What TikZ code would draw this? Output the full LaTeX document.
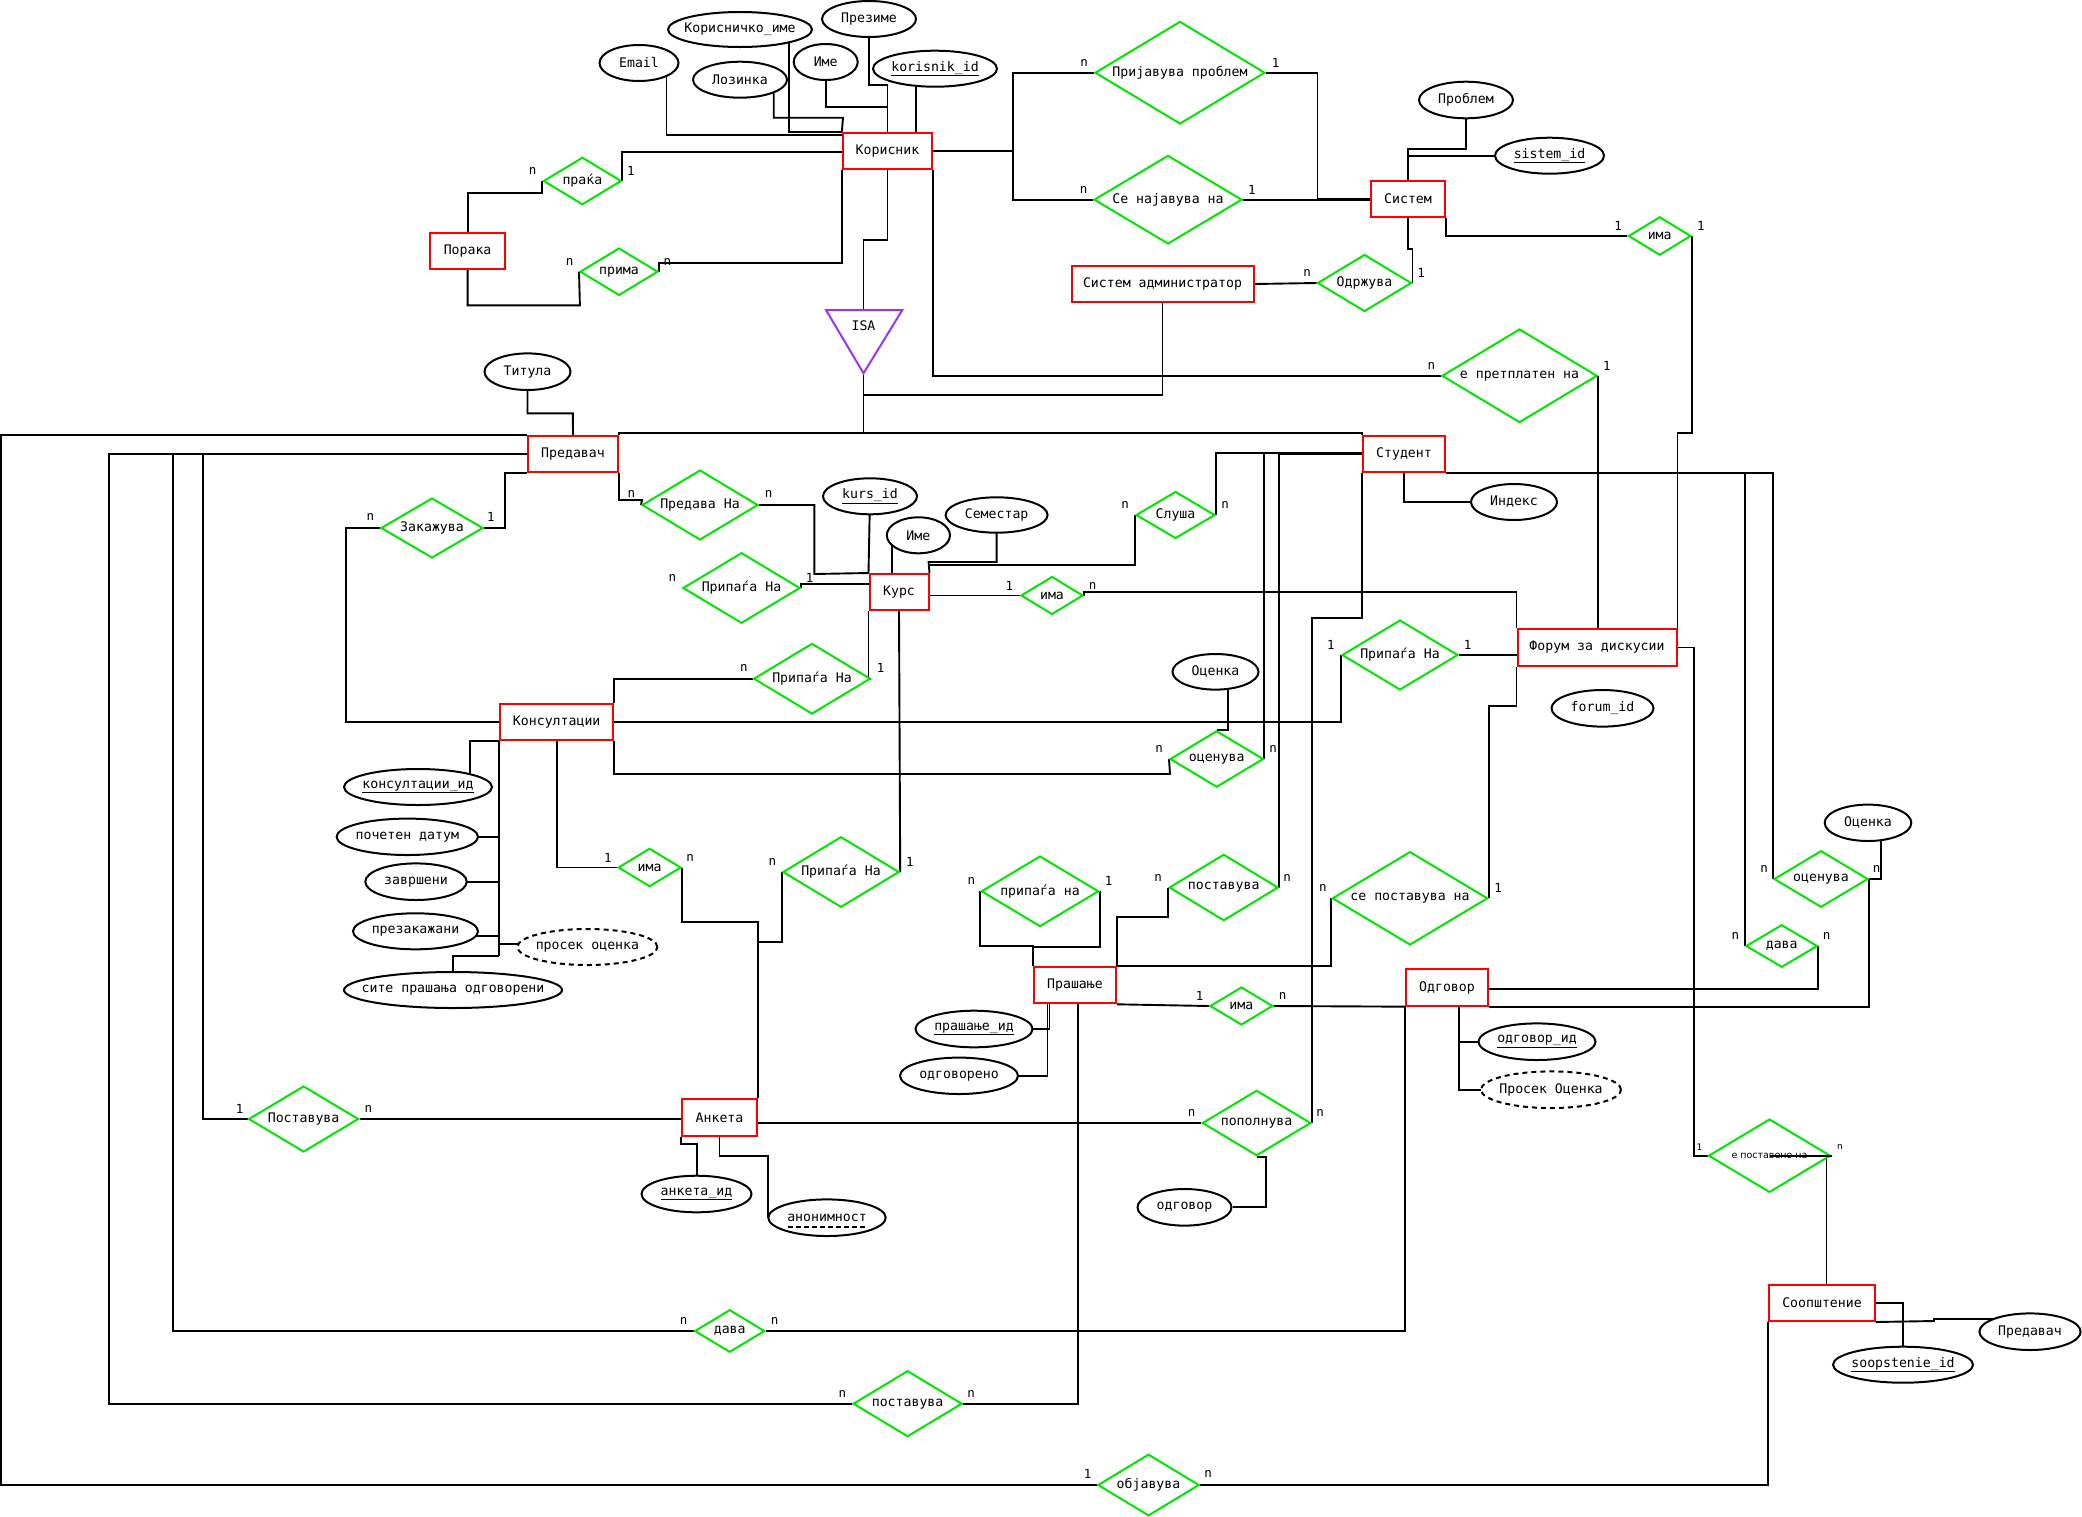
\documentclass[tikz,border=0pt]{standalone}
\usepackage{fontspec}
\setmainfont{DejaVu Sans Mono}
\newfontfamily\smallsans{DejaVu Sans}
\usetikzlibrary{shapes.geometric}
\pgfdeclarelayer{bgfill}
\pgfdeclarelayer{edges}
\pgfsetlayers{bgfill,edges,main}
\definecolor{ergreen}{RGB}{0,230,0}
\definecolor{erred}{RGB}{255,0,0}
\definecolor{isapurple}{RGB}{153,51,255}
\tikzset{
 ent/.style={rectangle,draw=erred,line width=2pt,fill=white,inner sep=0pt},
 rel/.style={diamond,draw=ergreen,line width=2pt,fill=white,inner sep=0pt},
 attr/.style={ellipse,draw=black,line width=2pt,fill=white,inner sep=0pt},
 derived/.style={dash pattern=on 5pt off 4pt},
 card/.style={inner sep=0pt,font=\fontsize{12.5}{14}\selectfont},
 smallcard/.style={inner sep=0pt,font=\smallsans\fontsize{9}{10}\selectfont},
 conn/.style={line width=1.9pt,draw=black},
}
\newcommand\mkent[5]{\node[ent,minimum width=#4,minimum height=#5] (#2) at (#3) {#1};}
\newcommand\mkrel[5]{\node[rel,minimum width=#4,minimum height=#5,label={center:#1}] (#2) at (#3) {};}
\newcommand\mkattr[6][]{\node[attr,#1,minimum width=#5,minimum height=#6,label={center:#2}] (#3) at (#4) {};}
\begin{document}
\begin{tikzpicture}[x=1pt,y=-1pt,font=\fontsize{13.2}{15}\selectfont]
\useasboundingbox (0,0) rectangle (2082,1516);
\begin{pgfonlayer}{bgfill}
\fill[white] (0,0) rectangle (2082,1516);
\end{pgfonlayer}

% ---------- entities ----------
\mkent{Корисник}{korisnik}{887.5,150.8}{89.3}{36.3}
\mkent{Порака}{poraka}{467.6,250.8}{74.6}{36.3}
\mkent{Систем}{sistem}{1408,199}{74}{36}
\mkent{Систем администратор}{sysadm}{1162.5,284}{182}{36.7}
\mkent{Предавач}{predavac}{573,454}{90}{36}
\mkent{Студент}{student}{1404,454}{82}{36}
\mkent{Курс}{kurs}{899,592}{59}{36}
\mkent{Форум за дискусии}{forum}{1597,647.5}{159}{36.3}
\mkent{Консултации}{konsult}{556.7,721.8}{112.6}{36.3}
\mkent{Прашање}{prasanje}{1075,985.3}{81.7}{36}
\mkent{Одговор}{odgovor}{1447,987.5}{81.5}{36.3}
\mkent{Анкета}{anketa}{719.5,1117.3}{74.6}{36.7}
\mkent{Соопштение}{soopst}{1822,1303}{105.4}{36}

% ---------- relationships ----------
\mkrel{праќа}{prakja}{582.4,181}{78}{47.4}
\mkrel{прима}{prima}{619,271.7}{78}{47.4}
\mkrel{Пријавува проблем}{prijavuva}{1180,72.7}{170}{102.6}
\mkrel{Се најавува на}{senajav}{1168,199.7}{148}{88.6}
\mkrel{Одржува}{odrzuva}{1364.5,283}{94}{57}
\mkrel{има}{imaS}{1659.7,236}{62.6}{38.4}
\mkrel{е претплатен на}{pretplat}{1519.5,375.8}{155.2}{93.6}
\mkrel{Закажува}{zakazuva}{432,528}{102}{60}
\mkrel{Предава На}{predavana}{700,505}{116}{70}
\mkrel{Припаѓа На}{pripKa}{741.5,588}{117.2}{70.6}
\mkrel{Припаѓа На}{pripKb}{812,678.7}{116.8}{70.6}
\mkrel{Слуша}{slusa}{1175.5,515}{79}{47}
\mkrel{има}{imaK}{1052,595.5}{62}{38}
\mkrel{Припаѓа На}{pripF}{1400,655}{116}{70}
\mkrel{оценува}{ocenM}{1216.7,759}{93.4}{56.4}
\mkrel{има}{imaKon}{649.6,867.5}{62.8}{38.4}
\mkrel{Припаѓа На}{pripA}{841,872}{116.4}{70.6}
\mkrel{припаѓа на}{pripP}{1040,891.3}{117.4}{70.6}
\mkrel{поставува}{postM}{1223.7,887.5}{109}{66.4}
\mkrel{се поставува на}{sepost}{1410,898.3}{155.4}{93.4}
\mkrel{оценува}{ocenR}{1821,879}{94}{56.6}
\mkrel{дава}{davaR}{1781.7,946}{71.4}{42.6}
\mkrel{има}{imaP}{1241.4,1006}{62.8}{38}
\mkrel{Поставува}{postavL}{303.6,1119}{110}{66}
\mkrel{пополнува}{popoln}{1256.6,1123}{108.6}{65.4}
\mkrel{{\smallsans\fontsize{9.5}{11}\selectfont е поставено на}}{epost}{1769.5,1155.7}{122}{73.4}
\mkrel{дава}{davaB}{729.7,1331}{70}{42.6}
\mkrel{поставува}{postB}{907.6,1403.7}{109}{66}
\mkrel{објавува}{objav}{1148.5,1485}{101.4}{61.6}

% ---------- attributes ----------
\mkattr{Email}{email}{639,63}{79}{36}
\mkattr{Корисничко\_име}{korime}{740,29.5}{144}{35}
\mkattr{Презиме}{prezime}{869,19}{94}{36}
\mkattr{Име}{imeK}{825.7,62}{64}{36}
\mkattr{Лозинка}{lozinka}{740,79.7}{94}{36}
\mkattr{\underline{korisnik\_id}}{korid}{935,68.7}{124}{36}
\mkattr{Проблем}{problem}{1466,100}{94}{36.6}
\mkattr{\underline{sistem\_id}}{sistid}{1549.5,155.7}{109}{36}
\mkattr{Титула}{titula}{527.5,371.7}{86}{36.6}
\mkattr{Индекс}{indeks}{1514,502}{86}{36}
\mkattr{\underline{kurs\_id}}{kursid}{870,496.3}{94}{36}
\mkattr{Име}{imeKurs}{918.4,535.3}{63.2}{36}
\mkattr{Семестар}{semestar}{996.6,515}{102}{35.4}
\mkattr{forum\_id}{forumid}{1602.5,708.3}{102}{36.6}
\mkattr{Оценка}{ocenkaM}{1215.5,671.8}{86}{35.6}
\mkattr{Оценка}{ocenkaR}{1868,822.8}{86.6}{36.4}
\mkattr{\underline{консултации\_ид}}{konsid}{418,787}{148}{36}
\mkattr{почетен датум}{pocetok}{407.3,836.8}{141.4}{36.4}
\mkattr{завршени}{zavrseni}{416,881.7}{101.4}{36.6}
\mkattr{презакажани}{prezak}{415.5,931.3}{125}{36}
\mkattr[derived]{просек оценка}{prosekK}{587.4,947}{140}{36}
\mkattr{сите прашања одговорени}{site}{453,990}{218}{36}
\mkattr{\underline{прашање\_ид}}{prasid}{974,1029}{117}{36.6}
\mkattr{одговорено}{odgovoreno}{959,1075.8}{118}{36.4}
\mkattr{\underline{одговор\_ид}}{odgid}{1537,1041.7}{117}{36.6}
\mkattr[derived]{Просек Оценка}{prosekO}{1551,1089.7}{140}{36.6}
\mkattr{\underline{анкета\_ид}}{anketaid}{696.5,1194}{110}{36.6}
\mkattr{анонимност}{anonim}{827,1217.7}{117.4}{36.6}
\mkattr{одговор}{odgovorA}{1184.5,1207.3}{94}{36.6}
\mkattr{\underline{soopstenie\_id}}{soopid}{1903,1364.7}{140}{36}
\mkattr{Предавач}{predAttr}{2030,1331.7}{101.2}{36.6}
\draw[line width=1.6pt,dash pattern=on 5pt off 3pt] ([xshift=-39pt,yshift=-9pt]anonim.center) -- ([xshift=39pt,yshift=-9pt]anonim.center);

% ---------- ISA ----------
\coordinate (isatop) at (863.5,310);
\coordinate (isaapex) at (863.5,373.3);
\draw[isapurple,line width=2pt,fill=white,line join=miter] (826,310) -- (902.3,310) -- (isaapex) -- cycle;
\node (isa) at (863.5,326) {ISA};

% ---------- connectors ----------
\begin{pgfonlayer}{edges}
\begin{scope}[conn]
% Korisnik attributes
\draw (email.center -| 666.5,0) |- (korisnik.center |- 0,134.7);
\draw (korime.center -| 789.4,0) |- (korisnik.north west);
\draw (lozinka.center -| 773.7,0) |- (843,117.7) -- (korisnik.north west);
\draw (imeK.center) |- (887.5,106.7) -- (korisnik.north);
\draw (prezime.center) |- (887.5,85) -- (korisnik.north);
\draw (korid.center -| 915.7,0) -- (korisnik.north -| 915.7,0);
% Poraka
\draw (prakja.east) |- (korisnik.center |- 0,151.7);
\draw (prakja.west) |- (467.6,193) -- (poraka.north);
\draw (poraka.south) |- (579.9,305.3) -- (prima.west);
\draw (prima.east) |- (korisnik.south west |- 0,262.7) -- (korisnik.south west);
% Sistem
\draw (korisnik.east) -- (1012.6,150.8);
\draw (prijavuva.west) -| (1012.6,199.7) -- (senajav.west);
\draw (prijavuva.east) -| (sistem.west -| 1317.5,0) -- (sistem.west);
\draw (senajav.east) -- (sistem.west |- senajav.east);
\draw (korisnik.south) |- (863.5,239.7) -- (isatop);
\draw (isaapex) -- (863.5,433.3);
\draw (predavac.north east) |- (student.north west |- 0,433.3) -- (student.north west);
\draw (isaapex |- 0,395) -| (sysadm.south);
\draw (korisnik.south east) |- (pretplat.west);
\draw (sysadm.east) -- (odrzuva.west);
\draw (odrzuva.east) |- (1408,249.3) -- (sistem.south);
\draw (problem.center) |- (1408,149.3) -- (sistem.north);
\draw (sistid.center) -| (sistem.north);
\draw (sistem.south east) |- (imaS.west);
\draw (imaS.east) |- (forum.north east |- 0,432.7) -- (forum.north east);
\draw (pretplat.east) -- (forum.north -| pretplat.east);
% Predavac
\draw (titula.center) |- (572.8,413.3) -- (predavac.north);
\draw (predavac.north west) -| (1,1485) -- (objav.west);
\draw (objav.east) -| (soopst.south west);
\draw (predavac.west) -| (109.4,1403.7) -- (postB.west);
\draw (predavac.west) -| (173.2,1331) -- (davaB.west);
\draw (predavac.west) -| (202.7,1119) -- (postavL.west);
\draw (postavL.east) -- (anketa.west |- postavL.east);
\draw (predavac.south west) -| (505.3,528) -- (zakazuva.east);
\draw (zakazuva.west) -| (346.4,721.8) -- (konsult.west);
\draw (predavac.south east) |- (642,500) -- (predavana.west);
\draw (predavana.east) -| (814.3,574) -- (kurs.north west);
% Kurs
\draw (pripKa.east) |- (kurs.west |- 0,584);
\draw (kursid.center) -- (kurs.north west);
\draw (imeKurs.center -| 892,0) -- (kurs.north -| 892,0);
\draw (semestar.center) |- (928.6,562) -- (kurs.north east);
\draw (slusa.west) |- (kurs.north east |- 0,565) -- (kurs.north east);
\draw (slusa.east) |- (student.west |- 0,452.7);
\draw (kurs.east |- imaK.west) -- (imaK.west);
\draw (imaK.east) |- (forum.north west |- 0,592) -- (forum.north west);
\draw (kurs.south west) |- (pripKb.east);
\draw (pripKb.west) -| (konsult.north east);
\draw (kurs.south) -- (pripA.east);
\draw (pripA.west) |- (anketa.north east |- 0,942.3) -- (anketa.north east);
% Konsultacii
\draw (konsult.east) -| (pripF.west);
\draw (pripF.east) -- (forum.west |- pripF.east);
\draw (konsult.south east) |- (1170,774) -- (ocenM.west);
\draw (ocenkaM.center -| 1227.7,0) |- (ocenM.north);
\draw (ocenM.east) |- (student.west |- 0,453.3);
\draw (konsult.south) |- (imaKon.west);
\draw (imaKon.east) |- (anketa.north east |- 0,922) -- (anketa.north east);
\draw (konsult.south west) -- (konsult.south west |- 0,956.3);
\draw (konsid.center -| 470.3,0) |- (konsult.south west);
\draw (pocetok.center) -- (konsult.south west |- pocetok.center);
\draw (zavrseni.center) -- (konsult.south west |- zavrseni.center);
\draw (prezak.center |- 0,936.3) -- (konsult.south west |- 0,936.3);
\draw (prosekK.center |- 0,943.7) -- (konsult.south west |- 0,943.7);
\draw (site.center) |- (konsult.south west |- 0,956.3);
% Student
\draw (student.south) |- (indeks.west);
\draw (postM.east) |- (student.west |- 0,454.5);
\draw (postM.west) |- (prasanje.north east |- 0,916.7) -- (prasanje.north east);
\draw (sepost.west) |- (prasanje.north east);
\draw (sepost.east) |- (forum.south west |- 0,706) -- (forum.south west);
\draw (forum.east) -| (1693.9,1155.7) -- (epost.west);
\draw (epost.east -| 1826.5,0) -- (soopst.north -| 1826.5,0);
\draw (soopst.east) -| (soopid.north);
\draw (soopst.south east) -- (1934,1321) -- (1934,1319) -- (predAttr.center |- 0,1319);
\draw (student.south east) -| (ocenR.west);
\draw (student.south east) -| (davaR.west);
\draw (ocenkaR.center -| 1880.8,0) |- (ocenR.east);
\draw (ocenR.east) |- (odgovor.south east);
\draw (davaR.east) |- (odgovor.east |- 0,989.3);
\draw (student.south west) |- (popoln.east |- 0,618) -- (popoln.east);
\draw (anketa.east |- popoln.west) -- (popoln.west);
\draw (popoln.south) -| (1266,1207.3) -- (odgovorA.east);
% Prasanje
\draw (pripP.west) |- (prasanje.north west |- 0,945.7) -- (prasanje.north west);
\draw (pripP.east) |- (prasanje.north west |- 0,947.3);
\draw (prasanje.south east) -- (imaP.west);
\draw (imaP.east) -- (odgovor.south west);
\draw (prasanje.south -| 1049.5,0) |- (prasid.center);
\draw (prasanje.south -| 1047.5,0) |- (odgovoreno.center);
\draw (prasanje.south -| 1078.2,0) |- (postB.east);
\draw (odgovor.south west) |- (davaB.east);
\draw (odgovor.south -| 1459,0) |- (odgid.center);
\draw (odgovor.south -| 1459,0) |- (prosekO.center);
% Anketa
\draw (anketa.south west) |- (697,1144) -- (anketaid.center -| 697,0);
\draw (anketa.south) |- (768.4,1155.7) -- (anonim.center -| 768.4,0);
\end{scope}
\end{pgfonlayer}
\draw[conn] (epost.center) -- (epost.east);

% ---------- cardinalities ----------
\foreach \t/\x/\y [count=\i] in {
n/532.6/171, 1/631/171, n/569.6/262, n/667.4/262,
n/1084/63, 1/1275.5/63, n/1083.5/190, 1/1251.8/190,
n/1307/273, 1/1421/273, 1/1618/226, 1/1700.8/226,
n/1431.4/366, 1/1606.8/366, n/370.5/517, 1/491/517,
n/631.4/494, n/768.6/494, n/672.5/578, 1/809.6/578,
n/744/668, 1/880.7/668, n/1125/505, n/1225/505,
1/1009.4/586, n/1092.5/586, 1/1330.8/645, 1/1467.5/645,
n/1159/749, n/1273/749, 1/608/858, n/690.2/858,
n/772.4/862, 1/910/862, n/971.3/881, 1/1108.6/881,
n/1158/878, n/1287/878, n/1322.8/888, 1/1498/888,
n/1764/869, n/1876.7/869, n/1735.3/936, n/1826.5/936,
1/1199.6/996, n/1282.6/996, 1/239.7/1109, n/368.3/1109,
n/1191.6/1113, n/1320/1113, n/683.6/1321, n/774.6/1321,
n/842.5/1394, n/971/1394, 1/1087.6/1474, n/1208/1474}
{\node[card] (lab\i) at (\x,\y) {\t};}
\node[smallcard] (labEa) at (1699.4,1147) {1};
\node[smallcard] (labEb) at (1840,1147) {n};
\end{tikzpicture}
\end{document}
